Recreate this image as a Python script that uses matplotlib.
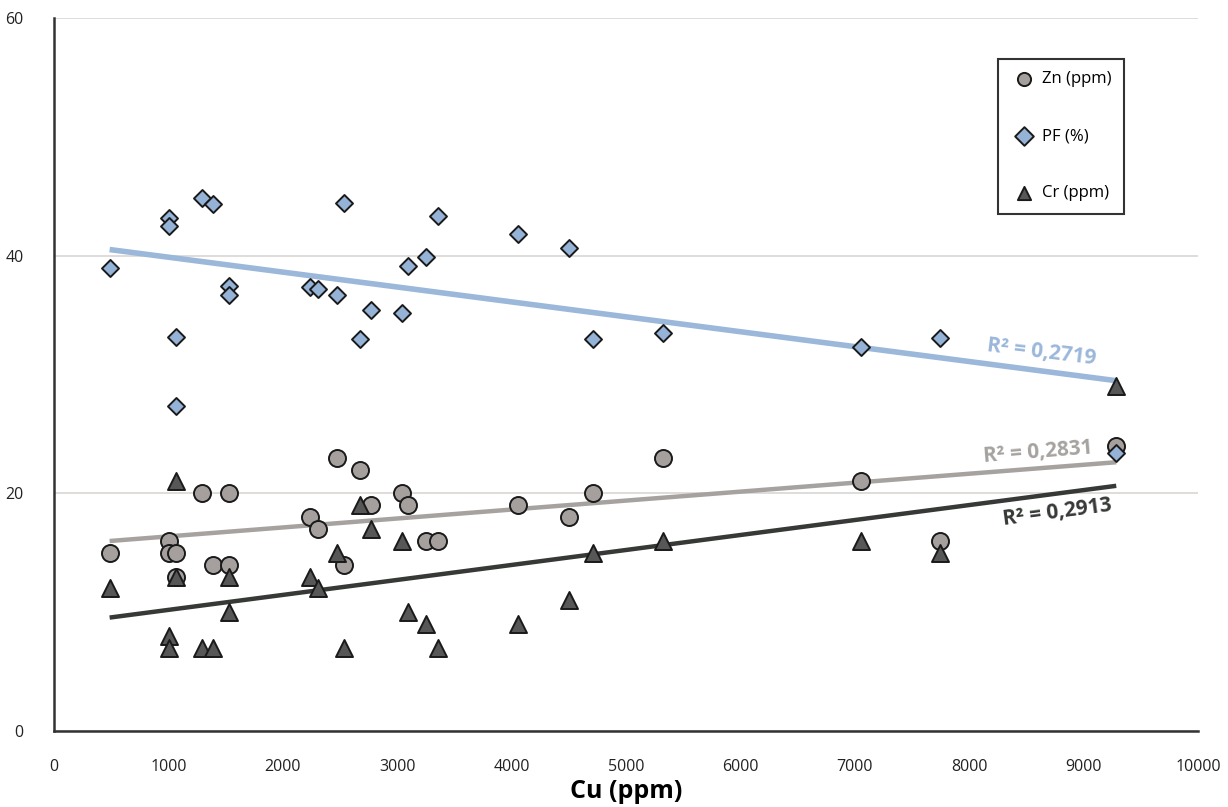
import numpy as np
import matplotlib
matplotlib.use("Agg")
import matplotlib.pyplot as plt

plt.rcParams['font.family'] = ['Open Sans', 'DejaVu Sans']

# Cu (ppm) for each sample, and the three measured series
cu = [486, 1005, 1005, 1066, 1066, 1293, 1389, 1533, 1533, 2237, 2304, 2473, 2536,
      2678, 2772, 3042, 3095, 3248, 3355, 4054, 4500, 4707, 5326, 7054, 7744, 9285]
zn = [15, 16, 15, 15, 13, 20, 14, 20, 14, 18, 17, 23, 14,
      22, 19, 20, 19, 16, 16, 19, 18, 20, 23, 21, 16, 24]
pf = [38.95, 43.16, 42.48, 33.14, 27.33, 44.84, 44.36, 37.46, 36.73, 37.35, 37.23, 36.68, 44.42,
      33.0, 35.44, 35.21, 39.17, 39.87, 43.32, 41.84, 40.66, 33.02, 33.5, 32.3, 33.08, 23.38]
cr = [12, 8, 7, 21, 13, 7, 7, 13, 10, 13, 12, 15, 7,
      19, 17, 16, 10, 9, 7, 9, 11, 15, 16, 16, 15, 29]

r2_labels = ["R² = 0,2831", "R² = 0,2719", "R² = 0,2913"]
legend_names = ["Zn (ppm)", "PF (%)", "Cr (ppm)"]

fig = plt.figure(figsize=(12.28, 8.07), dpi=100)
ax = fig.add_axes([0.044, 0.0942, 0.9316, 0.8835])

x = np.array(cu, dtype=float)
xs = np.array([x.min(), x.max()])

series = [
    (zn, 'o', '#A5A09D', '#A6A29F', 150, 3.2),
    (pf, 'D', '#95B3D7', '#9BB7DA', 75, 4.0),
    (cr, '^', '#575757', '#363936', 150, 3.2),
]

handles = []
for i, (vals, mk, fc, lc, s, lw) in enumerate(series):
    y = np.array(vals, dtype=float)
    m, b = np.polyfit(x, y, 1)
    ax.plot(xs, m * xs + b, color=lc, lw=lw, zorder=2, solid_capstyle='butt')
    h = ax.scatter(x, y, marker=mk, s=s, facecolor=fc, edgecolor='#1a1a1a',
                   linewidths=1.4, zorder=3 + i, label=legend_names[i])
    handles.append(h)

# R² labels next to the trend lines
txt = dict(fontsize=15, fontweight='bold', ha='center', va='center', rotation_mode='anchor')
ax.text(8600, 23.5, r2_labels[0], color='#A6A29F', rotation=4.5, **txt)
ax.text(8630, 31.9, r2_labels[1], color='#9BB7DA', rotation=-7, **txt)
ax.text(8770, 18.4, r2_labels[2], color='#363936', rotation=7.5, **txt)

ax.set_xlim(0, 10000)
ax.set_ylim(0, 60)
ax.set_xticks(np.arange(0, 10001, 1000))
ax.set_yticks([0, 20, 40, 60])
ax.tick_params(axis='both', length=0, labelsize=11.5, colors='#222222')
ax.tick_params(axis='x', pad=20)
ax.tick_params(axis='y', pad=22)
ax.yaxis.grid(True, color='#D9D6D3', lw=1.2)
ax.set_axisbelow(True)
for sp in ['top', 'right']:
    ax.spines[sp].set_visible(False)
for sp in ['left', 'bottom']:
    ax.spines[sp].set_color('#333333')
    ax.spines[sp].set_linewidth(1.8)

ax.set_xlabel("Cu (ppm)", fontsize=18, fontweight='bold', labelpad=3)

leg = ax.legend(handles=handles, loc='upper left', bbox_to_anchor=(0.825, 0.9425),
                frameon=True, fancybox=False, edgecolor='black', fontsize=12,
                labelspacing=2.45, borderpad=0.75, handletextpad=0.3, borderaxespad=0,
                handlelength=1.6, scatterpoints=1)
leg.get_frame().set_linewidth(1.5)
for h in leg.legend_handles:
    h.set_sizes([90])

fig.savefig("out.png", dpi=100)
